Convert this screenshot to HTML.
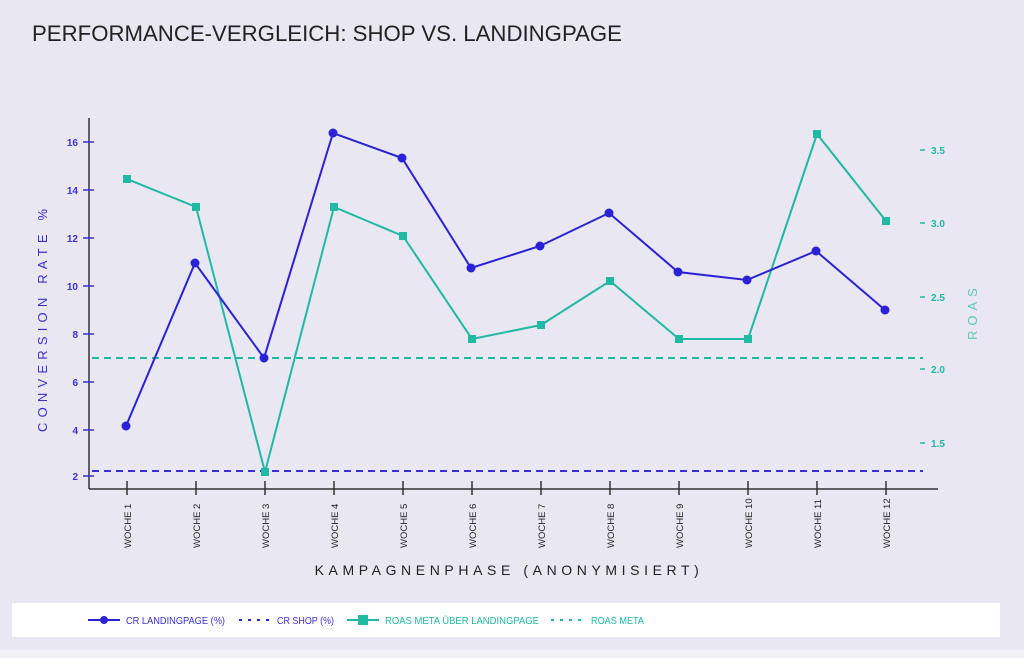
<!DOCTYPE html>
<html><head><meta charset="utf-8"><style>
html,body{margin:0;padding:0;background:#e9e7f2;}
svg{display:block;font-family:"Liberation Sans",sans-serif;}
</style></head><body>
<svg width="1024" height="658" viewBox="0 0 1024 658">
<rect width="1024" height="658" fill="#e9e7f2"/>
<rect x="0" y="650" width="1024" height="8" fill="#f1f0f6"/>
<text x="32" y="41" font-size="22" fill="#222" textLength="590" lengthAdjust="spacingAndGlyphs">PERFORMANCE-VERGLEICH: SHOP VS. LANDINGPAGE</text>
<g stroke="#333" stroke-width="1.5" fill="none">
<line x1="89" y1="118" x2="89" y2="489"/>
<line x1="89" y1="489" x2="938" y2="489"/>
<line x1="127" y1="481" x2="127" y2="495"/><line x1="196" y1="481" x2="196" y2="495"/><line x1="265" y1="481" x2="265" y2="495"/><line x1="334" y1="481" x2="334" y2="495"/><line x1="403" y1="481" x2="403" y2="495"/><line x1="472" y1="481" x2="472" y2="495"/><line x1="541" y1="481" x2="541" y2="495"/><line x1="610" y1="481" x2="610" y2="495"/><line x1="679" y1="481" x2="679" y2="495"/><line x1="748" y1="481" x2="748" y2="495"/><line x1="817" y1="481" x2="817" y2="495"/><line x1="886" y1="481" x2="886" y2="495"/>
</g>
<g stroke="#3a2fd8" stroke-width="1.5">
<line x1="83" y1="142" x2="94" y2="142"/><line x1="83" y1="190" x2="94" y2="190"/><line x1="83" y1="238" x2="94" y2="238"/><line x1="83" y1="286" x2="94" y2="286"/><line x1="83" y1="334" x2="94" y2="334"/><line x1="83" y1="382" x2="94" y2="382"/><line x1="83" y1="430" x2="94" y2="430"/><line x1="83" y1="476" x2="94" y2="476"/>
</g>
<g fill="#3a2fd8" font-size="10" font-weight="bold" text-anchor="end">
<text x="78" y="146">16</text><text x="78" y="194">14</text><text x="78" y="242">12</text><text x="78" y="290">10</text><text x="78" y="338">8</text><text x="78" y="386">6</text><text x="78" y="434">4</text><text x="78" y="480">2</text>
</g>
<text transform="translate(47,432) rotate(-90)" fill="#3a2fd8" font-size="13" letter-spacing="5.2">CONVERSION RATE %</text>
<g stroke="#1fb9a4" stroke-width="1.5">
<line x1="920" y1="150" x2="925" y2="150"/><line x1="920" y1="223" x2="925" y2="223"/><line x1="920" y1="297" x2="925" y2="297"/><line x1="920" y1="369" x2="925" y2="369"/><line x1="920" y1="443" x2="925" y2="443"/>
</g>
<g fill="#1fb9a4" font-size="10" font-weight="bold">
<text x="931" y="154">3.5</text><text x="931" y="227">3.0</text><text x="931" y="301">2.5</text><text x="931" y="373">2.0</text><text x="931" y="447">1.5</text>
</g>
<text transform="translate(977,340) rotate(-90)" fill="#5cc9b9" font-size="13" letter-spacing="5">ROAS</text>
<g fill="#222" font-size="9.5">
<text transform="translate(131,548) rotate(-90)">WOCHE 1</text><text transform="translate(200,548) rotate(-90)">WOCHE 2</text><text transform="translate(269,548) rotate(-90)">WOCHE 3</text><text transform="translate(338,548) rotate(-90)">WOCHE 4</text><text transform="translate(407,548) rotate(-90)">WOCHE 5</text><text transform="translate(476,548) rotate(-90)">WOCHE 6</text><text transform="translate(545,548) rotate(-90)">WOCHE 7</text><text transform="translate(614,548) rotate(-90)">WOCHE 8</text><text transform="translate(683,548) rotate(-90)">WOCHE 9</text><text transform="translate(752,548) rotate(-90)">WOCHE 10</text><text transform="translate(821,548) rotate(-90)">WOCHE 11</text><text transform="translate(890,548) rotate(-90)">WOCHE 12</text>
</g>
<text x="509" y="575" text-anchor="middle" fill="#222" font-size="14" letter-spacing="4.6">KAMPAGNENPHASE (ANONYMISIERT)</text>
<line x1="92" y1="471" x2="923" y2="471" stroke="#3a2fd8" stroke-width="2" stroke-dasharray="7,5"/>
<line x1="92" y1="358" x2="923" y2="358" stroke="#1fb9a4" stroke-width="2" stroke-dasharray="7,5"/>
<polyline fill="none" stroke="#1fb9a4" stroke-width="2" points="127,179 196,207 265,472 334,207 403,236 472,339 541,325 610,281 679,339 748,339 817,134 886,221"/>
<g fill="#1fb9a4">
<rect x="123" y="175" width="8" height="8"/><rect x="192" y="203" width="8" height="8"/><rect x="261" y="468" width="8" height="8"/><rect x="330" y="203" width="8" height="8"/><rect x="399" y="232" width="8" height="8"/><rect x="468" y="335" width="8" height="8"/><rect x="537" y="321" width="8" height="8"/><rect x="606" y="277" width="8" height="8"/><rect x="675" y="335" width="8" height="8"/><rect x="744" y="335" width="8" height="8"/><rect x="813" y="130" width="8" height="8"/><rect x="882" y="217" width="8" height="8"/>
</g>
<polyline fill="none" stroke="#2a22d6" stroke-width="2" points="126,426 195,263 264,358 333,133 402,158 471,268 540,246 609,213 678,272 747,280 816,251 885,310"/>
<g fill="#2a22d6">
<circle cx="126" cy="426" r="4.5"/><circle cx="195" cy="263" r="4.5"/><circle cx="264" cy="358" r="4.5"/><circle cx="333" cy="133" r="4.5"/><circle cx="402" cy="158" r="4.5"/><circle cx="471" cy="268" r="4.5"/><circle cx="540" cy="246" r="4.5"/><circle cx="609" cy="213" r="4.5"/><circle cx="678" cy="272" r="4.5"/><circle cx="747" cy="280" r="4.5"/><circle cx="816" cy="251" r="4.5"/><circle cx="885" cy="310" r="4.5"/>
</g>
<rect x="12" y="603" width="988" height="34" fill="#ffffff"/>
<line x1="88" y1="620" x2="120" y2="620" stroke="#2a22d6" stroke-width="2"/><circle cx="104" cy="620" r="4" fill="#2a22d6"/>
<text x="126" y="624" font-size="10" fill="#3a2fd8" textLength="99" lengthAdjust="spacingAndGlyphs">CR LANDINGPAGE (%)</text>
<line x1="239" y1="620" x2="271" y2="620" stroke="#2a22d6" stroke-width="2" stroke-dasharray="3,6"/>
<text x="277" y="624" font-size="10" fill="#3a2fd8" textLength="57" lengthAdjust="spacingAndGlyphs">CR SHOP (%)</text>
<line x1="347" y1="620" x2="379" y2="620" stroke="#1fb9a4" stroke-width="2"/><rect x="358" y="615" width="10" height="10" fill="#1fb9a4"/>
<text x="385" y="624" font-size="10" fill="#1fb9a4" textLength="154" lengthAdjust="spacingAndGlyphs">ROAS META ÜBER LANDINGPAGE</text>
<line x1="551" y1="620" x2="585" y2="620" stroke="#1fb9a4" stroke-width="2" stroke-dasharray="3,6"/>
<text x="591" y="624" font-size="10" fill="#1fb9a4" textLength="53" lengthAdjust="spacingAndGlyphs">ROAS META</text>
</svg>
</body></html>
